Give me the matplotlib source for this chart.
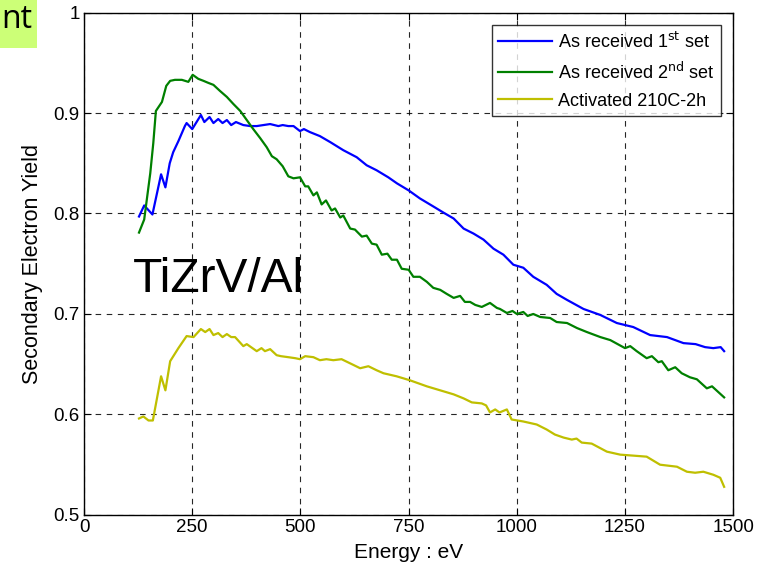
import numpy as np
import matplotlib.pyplot as plt
from matplotlib.patches import Rectangle

plt.rcParams['font.family'] = ['Liberation Sans', 'DejaVu Sans']

# series (energy in eV, SEY)
blue_x = [127, 139, 158, 178, 188, 198, 206, 218, 222, 233, 237, 250, 270, 278, 290, 299, 310, 320,
          330, 340, 351, 368, 384, 399, 430, 449, 459, 472, 484, 499, 508, 522, 545, 569, 599,
          630, 653, 676, 703, 723, 750, 776, 807, 830, 854, 877, 900, 923, 946, 969, 992, 1015,
          1038, 1069, 1092, 1116, 1154, 1193, 1231, 1269, 1308, 1347, 1385, 1413, 1435, 1454,
          1471, 1479]
blue_y = [0.797, 0.808, 0.799, 0.839, 0.826, 0.850, 0.861, 0.872, 0.876, 0.887, 0.890, 0.884, 0.898,
          0.891, 0.896, 0.890, 0.894, 0.890, 0.893, 0.888, 0.891, 0.888, 0.887, 0.887, 0.889,
          0.887, 0.888, 0.887, 0.887, 0.882, 0.884, 0.881, 0.877, 0.871, 0.863, 0.856, 0.848,
          0.843, 0.836, 0.830, 0.823, 0.815, 0.807, 0.801, 0.795, 0.785, 0.780, 0.774, 0.765,
          0.759, 0.749, 0.746, 0.737, 0.729, 0.720, 0.714, 0.705, 0.699, 0.691, 0.687, 0.679,
          0.677, 0.671, 0.670, 0.667, 0.666, 0.667, 0.663]

green_x = [127, 139, 153, 160, 166, 180, 190, 199, 210, 226, 241, 251, 264, 276, 287, 299, 314,
           330, 345, 361, 376, 391, 407, 422, 434, 445, 459, 472, 484, 499, 511, 518, 530, 538,
           549, 559, 572, 580, 592, 599, 615, 626, 642, 653, 665, 676, 688, 701, 711, 723, 734,
           750, 761, 776, 792, 807, 823, 838, 854, 869, 880, 892, 904, 919, 938, 954, 961, 977,
           990, 1000, 1015, 1025, 1038, 1054, 1077, 1092, 1116, 1139, 1162, 1193, 1216, 1250,
           1262, 1277, 1300, 1312, 1327, 1335, 1350, 1366, 1381, 1400, 1416, 1439, 1451, 1479]
green_y = [0.781, 0.794, 0.840, 0.870, 0.902, 0.911, 0.927, 0.932, 0.933, 0.933, 0.931, 0.938,
           0.934, 0.932, 0.930, 0.928, 0.922, 0.916, 0.909, 0.902, 0.893, 0.884, 0.875, 0.866,
           0.857, 0.854, 0.847, 0.837, 0.835, 0.836, 0.827, 0.827, 0.818, 0.821, 0.809, 0.813,
           0.803, 0.805, 0.796, 0.798, 0.785, 0.784, 0.777, 0.778, 0.770, 0.769, 0.759, 0.760,
           0.754, 0.754, 0.745, 0.744, 0.737, 0.737, 0.732, 0.726, 0.724, 0.720, 0.716, 0.718,
           0.712, 0.712, 0.709, 0.707, 0.711, 0.706, 0.705, 0.701, 0.703, 0.700, 0.702, 0.698,
           0.700, 0.697, 0.696, 0.692, 0.691, 0.686, 0.682, 0.677, 0.674, 0.666, 0.668, 0.663,
           0.656, 0.658, 0.652, 0.653, 0.644, 0.647, 0.641, 0.637, 0.635, 0.626, 0.628, 0.617]

yellow_x = [127, 137, 149, 159, 178, 188, 199, 218, 237, 253, 270, 280, 290, 299, 310, 320, 330,
            340, 349, 368, 376, 399, 410, 418, 430, 445, 455, 472, 488, 499, 511, 530, 545, 560,
            576, 595, 619, 638, 657, 676, 692, 722, 753, 792, 823, 854, 877, 896, 919, 929, 938,
            950, 960, 977, 988, 1015, 1046, 1069, 1088, 1108, 1127, 1138, 1150, 1173, 1208, 1239,
            1270, 1300, 1331, 1370, 1393, 1412, 1431, 1454, 1470, 1479]
yellow_y = [0.596, 0.598, 0.594, 0.594, 0.638, 0.624, 0.653, 0.666, 0.678, 0.677, 0.685, 0.682,
            0.685, 0.679, 0.681, 0.677, 0.680, 0.677, 0.677, 0.668, 0.670, 0.663, 0.666, 0.663,
            0.665, 0.659, 0.658, 0.657, 0.656, 0.655, 0.658, 0.657, 0.654, 0.655, 0.654, 0.655,
            0.650, 0.646, 0.648, 0.644, 0.641, 0.638, 0.634, 0.628, 0.624, 0.620, 0.616, 0.612,
            0.611, 0.609, 0.602, 0.605, 0.602, 0.605, 0.595, 0.593, 0.590, 0.585, 0.580, 0.577,
            0.575, 0.576, 0.572, 0.571, 0.563, 0.560, 0.559, 0.558, 0.550, 0.548, 0.543, 0.542,
            0.543, 0.540, 0.537, 0.528]

labels = ['As received 1$^{\\mathrm{st}}$ set', 'As received 2$^{\\mathrm{nd}}$ set',
          'Activated 210C-2h']
xticks = [0, 250, 500, 750, 1000, 1250, 1500]
yticks = [0.5, 0.6, 0.7, 0.8, 0.9, 1.0]
ytick_labels = ['0.5', '0.6', '0.7', '0.8', '0.9', '1']

fig = plt.figure(figsize=(7.71, 5.69), dpi=100)
ax = fig.add_axes([0.109, 0.095, 0.842, 0.883])

ax.plot(blue_x, blue_y, color='#0000ff', lw=1.6, label=labels[0])
ax.plot(green_x, green_y, color='#008000', lw=1.6, label=labels[1])
ax.plot(yellow_x, yellow_y, color='#bfbf00', lw=1.6, label=labels[2])

ax.set_xlim(0, 1500)
ax.set_ylim(0.5, 1.0)
ax.set_xticks(xticks)
ax.set_yticks(yticks)
ax.set_yticklabels(ytick_labels)
ax.tick_params(direction='in', top=True, right=True, length=5, width=0.8, labelsize=13.5, pad=3)
ax.grid(True, color='k', linestyle=(0, (5, 5)), lw=0.8, alpha=0.85)
for s in ax.spines.values():
    s.set_linewidth(1.0)

ax.set_xlabel('Energy : eV', fontsize=15, labelpad=5)
ax.set_ylabel('Secondary Electron Yield', fontsize=15.5, labelpad=8)

ax.text(113, 0.722, 'TiZrV/Al', fontsize=34.5)

leg = ax.legend(loc='upper right', fontsize=13, handlelength=3.0, handletextpad=0.3,
                frameon=True, fancybox=False, borderaxespad=0.7, labelspacing=0.55,
                borderpad=0.35)
leg.get_frame().set_edgecolor('k')
leg.get_frame().set_linewidth(1.0)

# leftover slide label in the corner
fig.patches.append(Rectangle((0, 1 - 48 / 569), 37 / 771, 48 / 569, transform=fig.transFigure,
                             facecolor='#ccff77', edgecolor='none'))
fig.text(0.001, 1 - 28 / 569, 'nt', fontsize=23, color='k', family=['Open Sans', 'DejaVu Sans'])

fig.savefig('out.png', dpi=100)
